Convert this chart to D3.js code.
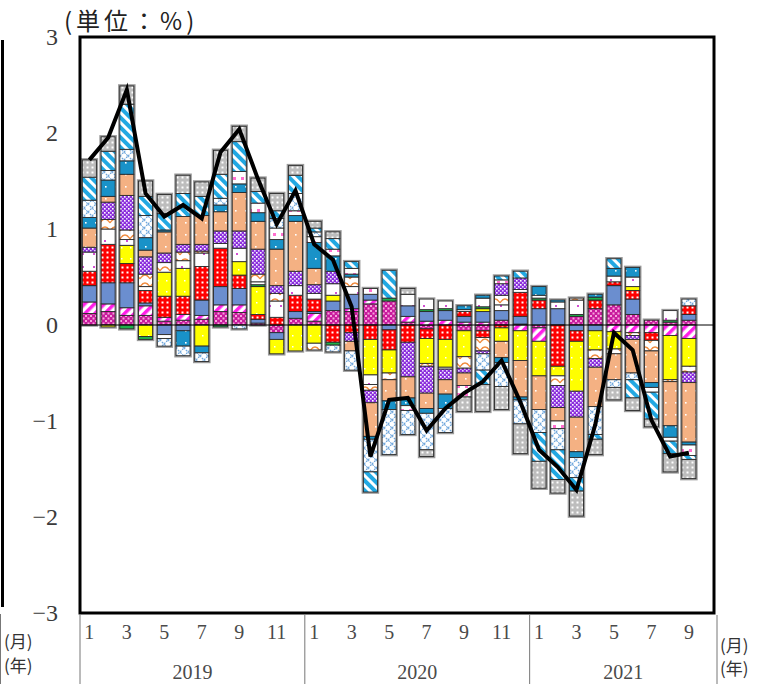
<!DOCTYPE html>
<html>
<head>
<meta charset="utf-8">
<script src="https://cdn.jsdelivr.net/npm/d3@7"></script>
<style>
  body { margin: 0; background: #fff; }
  svg text { font-family: "Liberation Serif", "DejaVu Serif", serif; }
  .jp { font-family: "Noto Sans CJK JP", sans-serif; }
</style>
</head>
<body>
<div id="chart"></div>
<script>
// months Jan 2019 .. Sep 2021, plus one empty slot at the end
const periods = [
    '2019-01','2019-02','2019-03','2019-04','2019-05','2019-06','2019-07','2019-08','2019-09','2019-10','2019-11','2019-12',
    '2020-01','2020-02','2020-03','2020-04','2020-05','2020-06','2020-07','2020-08','2020-09','2020-10','2020-11','2020-12',
    '2021-01','2021-02','2021-03','2021-04','2021-05','2021-06','2021-07','2021-08','2021-09'
];
const slots = periods.concat(['2021-10']);
const month_labels = ['1', '3', '5', '7', '9', '11'];
const years = ['2019', '2020', '2021'];
const y_ticks = [3, 2, 1, 0, -1, -2, -3];

// contributions (% pt), stacked from zero outward in this order
const pinkDots    = [.12,.14,.10,.10,.04,.05,.06,.14,.13,.02,-.08,.07,.04,.15,.14,.22,.25,.03,-.04,0,-.06,-.06,.05,.01,-.03,0,.09,.17,.21,.11,.05,.03,.05];
const magStripe   = [.12,.08,.08,.10,.04,.06,.04,.07,.08,0,0,0,.08,0,.03,.04,0,.06,.04,.05,.03,.03,0,-.06,-.14,0,0,0,-.07,-.08,-.08,-.11,-.14];
const blue        = [.17,.22,.26,.03,-.10,-.06,.16,.19,.17,.04,-.07,.07,.02,.10,.15,.06,-.05,.11,.10,.10,.06,.11,.10,.08,.17,.17,-.06,-.06,.20,.16,0,0,.06];
const redDots     = [.15,.40,.20,.13,.22,.19,.35,.40,.14,.05,.08,.17,.13,-.18,-.08,-.15,-.21,-.18,-.10,-.15,.05,-.07,-.03,.25,.09,-.43,-.11,.09,.04,.09,-.08,0,.09];
const yellow      = [0,-.02,.19,-.12,.25,.29,-.22,0,.14,.29,-.15,-.27,-.19,.06,0,-.37,-.24,0,-.26,-.29,-.27,.03,-.14,-.31,-.36,-.10,-.52,-.20,-.18,.04,0,-.46,-.29];
const green       = [0,0,-.04,-.03,0,0,0,-.02,0,.02,0,0,0,-.03,0,0,.03,0,.02,.02,0,.02,0,0,.02,0,.02,.03,0,0,0,.02,0];
const white       = [.20,.16,.06,.04,-.04,.08,.14,.05,.14,.03,.17,.10,.06,.12,.08,-.10,0,.12,.11,.08,.02,.09,.06,.03,.03,.07,.15,0,.06,.10,0,.10,0];
const orangeWave  = [0,.10,.10,.13,.10,.09,.02,0,0,.08,.08,0,-.07,0,.10,-.06,-.07,0,-.03,-.02,-.12,-.14,.10,0,0,-.10,.02,-.09,-.05,-.03,-.11,-.02,-.06];
const purpleCheck = [.05,.18,.36,.18,.10,.08,.07,.13,.18,.26,.08,.15,.09,.13,-.09,-.13,0,-.36,-.28,-.11,-.05,-.03,.12,.12,0,-.23,-.27,-.09,0,-.04,0,0,-.11];
const peach       = [.20,.06,.22,.07,.22,.29,.30,.20,.40,.29,.38,.52,.17,0,-.10,-.35,-.22,-.22,-.16,-.15,-.13,0,-.17,-.38,-.35,-.14,-.36,-.41,-.27,-.35,-.33,-.46,-.62];
const teal        = [.11,.17,.14,.13,.02,-.16,-.07,.07,.09,.09,.10,.06,.27,.16,.03,-.03,-.09,-.08,-.05,-.15,.04,.03,-.05,-.03,.09,.02,-.06,.03,.08,.10,-.05,-.12,-.03];
const pinkWhite   = [0,0,0,0,0,0,0,0,.13,.10,.12,.05,.06,.07,.06,.06,0,-.05,0,0,-.12,0,.04,0,0,-.08,0,0,0,0,-.05,-.04,-.11];
const blueZig     = [.18,.10,.12,.23,-.08,-.10,-.09,.07,-.04,0,.10,.18,.05,-.07,-.20,-.34,-.47,-.25,-.38,-.25,0,-.17,-.25,-.25,-.24,-.22,-.21,-.29,-.08,-.07,0,0,.07];
const blueStripe  = [.24,.20,.47,.20,.17,.24,.20,.25,.31,.12,.08,.19,.04,.11,.07,-.21,.29,0,0,0,0,-.15,.04,.07,-.30,-.31,-.14,-.05,.10,-.19,-.28,-.13,-.04];
const gray        = [.18,.15,.19,.16,.20,.19,.15,.25,.16,.14,.18,.10,.07,.07,0,0,0,.06,-.07,0,-.15,-.28,-.24,-.31,-.28,-.14,-.26,-.16,-.13,-.13,-.08,-.19,-.20];

// overall change (line)
const total = [1.72,1.95,2.45,1.37,1.13,1.25,1.11,1.80,2.04,1.52,1.05,1.40,0.84,0.68,0.19,-1.37,-0.78,-0.76,-1.10,-0.87,-0.71,-0.59,-0.37,-0.80,-1.30,-1.48,-1.72,-1.04,-0.08,-0.26,-0.99,-1.37,-1.33];

const series = {pinkDots, magStripe, blue, redDots, yellow, green, white, orangeWave,
    purpleCheck, peach, teal, pinkWhite, blueZig, blueStripe, gray};
const keys = Object.keys(series);

const chart_width = 768;
const chart_height = 684;
const plot_left = 80, plot_right = 717, frame_right = 714, plot_top = 37, plot_bottom = 613;

const svg = d3.select('#chart')
    .append('svg')
    .attr('width', chart_width)
    .attr('height', chart_height);

// patterns
const defs = svg.append('defs');
function pattern(id, w, h, bg, draw, transform) {
    const p = defs.append('pattern')
        .attr('id', id)
        .attr('patternUnits', 'userSpaceOnUse')
        .attr('width', w)
        .attr('height', h);
    if (transform) p.attr('patternTransform', transform);
    p.append('rect').attr('width', w).attr('height', h).attr('fill', bg);
    if (draw) draw(p);
}
const sq = (p, x, y, s, c) => p.append('rect').attr('x', x).attr('y', y).attr('width', s).attr('height', s).attr('fill', c);

pattern('pinkDots', 5, 5, '#c81a9c', p => { sq(p, 0, 0, 2, '#f7a3dc'); sq(p, 2.5, 2.5, 2, '#f7a3dc'); });
pattern('magStripe', 7, 7, '#fff', p => p.append('rect').attr('width', 3.5).attr('height', 7).attr('fill', '#ff1ee8'), 'rotate(45)');
pattern('blue', 10, 10, '#6b8ecf');
pattern('redDots', 5, 5, '#ff0000', p => sq(p, 1.5, 1.5, 2, '#fff'));
pattern('yellow', 9, 11, '#ffff00', p => sq(p, 4, 5, 1.5, '#fff'));
pattern('green', 10, 10, '#1fb04a');
pattern('white', 11, 13, '#fff', p => sq(p, 5, 6, 2, '#d24fd2'));
pattern('orangeWave', 10, 8, '#fff', p => p.append('path').attr('d', 'M0,7 Q5,-1 10,7').attr('fill', 'none').attr('stroke', '#f08a3c').attr('stroke-width', 1.3));
pattern('purpleCheck', 4, 4, '#8b2fdc', p => { sq(p, 0, 0, 1.6, '#fff'); sq(p, 2, 2, 1.6, '#e6d0ff'); });
pattern('peach', 10, 12, '#f4b183', p => sq(p, 5, 6, 1.6, '#fff'));
pattern('teal', 10, 12, '#1992c8', p => sq(p, 5, 6, 1.6, '#fff'));
pattern('pinkWhite', 8, 8, '#fff', p => sq(p, 1, 1, 3, '#ff6fcf'));
pattern('blueZig', 8, 8, '#fff', p => p.append('path').attr('d', 'M0,4 L4,0 L8,4 L4,8 Z').attr('fill', 'none').attr('stroke', '#6ea6dc').attr('stroke-width', 1.2).attr('stroke-dasharray', '2,1'));
pattern('blueStripe', 7, 7, '#fff', p => p.append('rect').attr('width', 4).attr('height', 7).attr('fill', '#22a8e2'), 'rotate(-45)');
pattern('gray', 5, 5, '#bdbdbd', p => sq(p, 1.5, 1.5, 2, '#fff'));

// scales
const x_scale = d3.scaleBand()
    .domain(slots)
    .range([plot_left, plot_right])
    .paddingInner(0.25)
    .paddingOuter(0.125);

const y_scale = d3.scaleLinear()
    .domain([-3, 3])
    .range([plot_bottom, plot_top]);

// stacked data
const rows = periods.map((p, i) => {
    const r = {period: p};
    keys.forEach(k => r[k] = series[k][i]);
    return r;
});
const stacked = d3.stack()
    .keys(keys)
    .offset(d3.stackOffsetDiverging)(rows);

// bar outline halo
const extent = rows.map((r, i) => {
    const vals = stacked.map(s => s[i]).flat();
    return {period: r.period, lo: d3.min(vals), hi: d3.max(vals)};
});
svg.append('g')
    .selectAll('rect')
    .data(extent)
    .enter()
    .append('rect')
    .attr('x', d => x_scale(d.period) - 0.5)
    .attr('width', x_scale.bandwidth() + 1)
    .attr('y', d => y_scale(d.hi) - 0.5)
    .attr('height', d => y_scale(d.lo) - y_scale(d.hi) + 1)
    .attr('fill', 'none')
    .attr('stroke', '#9a9a9a')
    .attr('stroke-width', 2.5);

// Create bar segments
svg.append('g')
    .selectAll('g')
    .data(stacked)
    .enter()
    .append('g')
    .attr('fill', s => `url(#${s.key})`)
    .selectAll('rect')
    .data(s => s.filter(d => d[1] !== d[0]).map(d => ({d, period: d.data.period})))
    .enter()
    .append('rect')
    .attr('x', e => x_scale(e.period))
    .attr('width', x_scale.bandwidth())
    .attr('y', e => y_scale(Math.max(e.d[0], e.d[1])))
    .attr('height', e => Math.abs(y_scale(e.d[0]) - y_scale(e.d[1])))
    .attr('stroke', '#2a2a2a')
    .attr('stroke-width', 0.9);

// zero line
svg.append('line')
    .attr('x1', plot_left).attr('x2', frame_right)
    .attr('y1', y_scale(0)).attr('y2', y_scale(0))
    .attr('stroke', '#000')
    .attr('stroke-width', 1);

// total line
const line = d3.line()
    .x((d, i) => x_scale(periods[i]) + x_scale.bandwidth() / 2)
    .y(d => y_scale(d));
svg.append('path')
    .datum(total)
    .attr('d', line)
    .attr('fill', 'none')
    .attr('stroke', '#000')
    .attr('stroke-width', 4)
    .attr('stroke-linejoin', 'miter');

// frame
svg.append('rect')
    .attr('x', plot_left)
    .attr('y', plot_top)
    .attr('width', frame_right - plot_left)
    .attr('height', plot_bottom - plot_top)
    .attr('fill', 'none')
    .attr('stroke', '#000')
    .attr('stroke-width', 3);

// Create Axis
const y_axis = d3.axisLeft(y_scale)
    .tickValues(y_ticks)
    .tickSize(0)
    .tickPadding(22)
    .tickFormat(d => d < 0 ? '\u2212' + Math.abs(d) : d);
svg.append('g')
    .attr('transform', `translate(${plot_left}, 0)`)
    .call(y_axis)
    .call(g => g.select('.domain').remove())
    .selectAll('text')
    .attr('font-size', 24)
    .attr('fill', '#3a3a3a')
    .style('font-family', '"Liberation Serif", serif');

const x_axis = d3.axisBottom(x_scale)
    .tickValues(periods.filter(p => month_labels.includes(String(+p.slice(5)))))
    .tickSize(0)
    .tickPadding(12)
    .tickFormat(p => String(+p.slice(5)));
svg.append('g')
    .attr('transform', `translate(0, ${plot_bottom})`)
    .call(x_axis)
    .call(g => g.select('.domain').remove())
    .selectAll('text')
    .attr('font-size', 20)
    .attr('fill', '#4a4a4a')
    .style('font-family', '"Liberation Serif", serif');

// year separators and labels
const bounds = [0, 12, 24].map(i => plot_left + x_scale.step() * i).concat([plot_right]);
svg.append('g')
    .selectAll('line')
    .data(bounds)
    .enter()
    .append('line')
    .attr('x1', d => d).attr('x2', d => d)
    .attr('y1', plot_bottom + 2).attr('y2', chart_height)
    .attr('stroke', '#777')
    .attr('stroke-width', 1);

svg.append('g')
    .selectAll('text')
    .data(years)
    .enter()
    .append('text')
    .attr('x', (d, i) => (bounds[i] + bounds[i + 1]) / 2)
    .attr('y', 679)
    .attr('text-anchor', 'middle')
    .attr('font-size', 20)
    .attr('fill', '#4a4a4a')
    .text(d => d);

// unit labels
svg.append('text').attr('class', 'jp')
    .attr('x', 64).attr('y', 30)
    .attr('font-size', 24)
    .attr('fill', '#222')
    .style('letter-spacing', '4px')
    .text('(単位：%)');

[[4, 648, '(月)'], [4, 672, '(年)'], [720, 652, '(月)'], [720, 675, '(年)']].forEach(([x, y, t]) => {
    svg.append('text').attr('class', 'jp')
        .attr('x', x).attr('y', y)
        .attr('font-size', 17)
        .attr('fill', '#333')
        .text(t);
});

// left edge marks
svg.append('line')
    .attr('x1', 2.5).attr('x2', 2.5)
    .attr('y1', 40).attr('y2', 607)
    .attr('stroke', '#000')
    .attr('stroke-width', 3);
svg.append('line')
    .attr('x1', 0.5).attr('x2', 0.5)
    .attr('y1', 614).attr('y2', chart_height)
    .attr('stroke', '#777')
    .attr('stroke-width', 1);
</script>
</body>
</html>
